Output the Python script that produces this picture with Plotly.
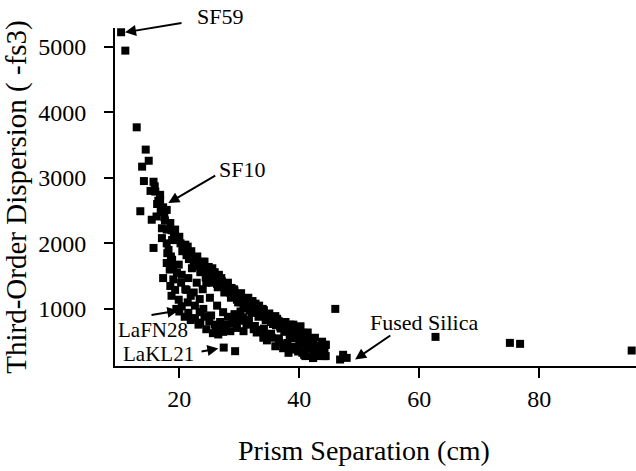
import plotly.graph_objects as go

# Prism separation (cm) and third-order dispersion (-fs^3)
x_cm = [
    10.3, 11.0, 12.9, 14.4, 14.9, 13.8, 14.1, 15.7, 15.9, 16.0, 16.8, 16.8, 17.9, 13.5, 15.4, 16.2,
    18.5, 17.1, 17.9, 19.3, 17.1, 15.7, 17.9, 19.9, 20.6, 21.8, 22.9, 24.1, 25.1, 26.2, 27.4, 28.5,
    29.6, 30.7,
    15.2, 16.3, 17.3, 17.5, 18.7, 19.1, 19.5, 20.2, 20.9, 21.2, 21.4, 22.2, 22.4, 23.2, 23.6, 24.2,
    24.5, 24.8, 25.5, 25.8, 26.3, 26.6, 27.1, 27.8, 28.1, 28.7, 29.0, 29.2, 30.0, 30.2, 31.0, 31.4,
    31.7, 32.2, 32.5, 32.9, 33.3, 33.7, 34.1, 34.5, 34.9, 35.3, 35.7, 36.1, 36.4, 36.9, 37.2, 37.5,
    38.0, 38.4, 38.8, 39.2, 39.6, 40.0, 40.4, 40.8, 41.2, 41.5, 41.9, 42.3, 42.7, 43.1, 43.5, 44.1,
    44.4, 41.0, 42.3, 39.0, 37.3, 36.0, 34.6, 34.0, 32.4, 31.2, 30.2, 29.6, 28.5, 30.7, 31.3, 32.9,
    34.1, 35.3, 36.6, 38.0, 39.8, 40.5, 38.2,
    32.6, 33.4, 34.9, 36.0, 36.6, 37.3, 38.5, 39.3, 40.2, 40.7, 41.2, 42.3, 42.9, 44.4, 44.4, 42.3,
    18.2, 18.8, 17.9, 19.9, 17.3, 19.0, 20.4, 21.5, 22.1, 22.9, 21.2, 19.3, 19.9, 20.4, 21.5, 22.6,
    23.5, 24.5, 25.6, 26.5, 25.1, 24.5, 18.4, 18.5, 18.7, 19.5, 20.0, 20.9, 21.9, 23.2, 24.0, 25.3,
    26.8, 27.8, 29.0, 26.1, 27.3, 22.4, 23.4, 21.4, 26.3, 27.3, 28.1, 29.2, 30.2, 23.9,
    20.0, 20.5, 21.0, 21.6, 22.0, 22.6, 23.0, 23.5, 24.0, 24.4, 24.9, 25.4, 25.9, 26.4, 27.0, 27.5,
    28.0, 28.6, 29.1, 29.8, 30.3, 30.9, 31.5, 32.0, 32.7, 33.2, 33.9, 34.4, 35.0, 35.6, 36.3, 36.8,
    37.7, 38.3, 39.0, 39.5, 40.1, 40.6, 41.4, 42.0, 42.6, 43.2, 43.8, 44.2, 43.6, 42.8, 40.8, 39.8,
    38.6, 37.8, 36.6, 35.4, 34.4, 33.5, 32.6, 31.6, 30.6, 29.8, 28.8, 27.8, 26.9, 25.9, 25.0, 24.2,
    23.4, 22.6, 21.9, 21.0, 20.3, 19.6, 19.0, 18.6, 18.0, 18.8, 17.6, 16.9, 16.5,
    27.4, 29.3,
    46.8, 47.9, 47.3,
    46.0, 62.7, 75.1, 76.8, 95.4,
]
y_fs3 = [
    5220, 4940, 3770, 3430, 3260, 3170, 2950, 2940, 2870, 2790, 2740, 2665, 2510, 2490, 2360, 2410,
    2310, 2230, 2210, 2210, 2080, 1930, 2000, 2080, 1950, 1850, 1750, 1650, 1550, 1450, 1345, 1245,
    1140, 1040,
    2800, 2600, 2550, 2400, 2200, 2150, 2050, 2000, 1900, 1820, 1950, 1780, 1700, 1690, 1600, 1720,
    1580, 1500, 1620, 1480, 1380, 1520, 1420, 1300, 1400, 1320, 1200, 1280, 1210, 1100, 1150, 1080,
    980, 1120, 1000, 950, 1050, 900, 980, 850, 920, 800, 870, 750, 820, 700, 780, 650,
    720, 600, 680, 550, 620, 500, 580, 450, 520, 400, 480, 330, 430, 300, 380, 280,
    450, 280, 250, 380, 400, 430, 520, 560, 690, 760, 820, 710, 660, 660, 790, 640,
    700, 620, 550, 480, 420, 330, 330,
    1015, 940, 890, 890, 810, 760, 760, 685, 735, 635, 560, 535, 430, 455, 280, 255,
    1900, 1750, 1700, 1675, 1470, 1450, 1520, 1470, 1620, 1400, 1290, 1290, 1140, 1040, 940, 860,
    790, 690, 630, 610, 1170, 1400, 1600, 1350, 1200, 1000, 960, 880, 830, 760, 1000, 900,
    800, 720, 780, 700, 650, 1250, 1150, 1100, 1050, 950, 880, 920, 960, 1300,
    2100, 1880, 1980, 1760, 1880, 1650, 1800, 1560, 1720, 1480, 1640, 1400, 1560, 1330, 1470, 1250,
    1380, 1170, 1300, 1100, 1240, 1010, 1170, 940, 1080, 880, 1000, 830, 930, 770, 850, 730,
    800, 690, 760, 640, 700, 580, 640, 500, 560, 430, 500, 350, 320, 280, 300, 350,
    420, 460, 490, 560, 620, 680, 740, 830, 870, 880, 800, 760, 730, 760, 810, 880,
    950, 1050, 1200, 1300, 1400, 1550, 1650, 1800, 1850, 2050, 2350, 2480, 2650,
    410, 355,
    228, 253, 300,
    1000, 573, 482, 467, 365,
]

x_ticks = [20, 40, 60, 80]
y_ticks = [1000, 2000, 3000, 4000, 5000]

# Labelled glasses: name and the data point each arrow points at
labels = ["SF59", "SF10", "LaFN28", "LaKL21", "Fused Silica"]
head_x = [10.95, 18.17, 19.83, 26.5, 49.3]
head_y = [5219, 2615, 974, 395, 228]

FONT = "Liberation Serif, Times New Roman, serif"

fig = go.Figure()
fig.add_trace(go.Scatter(
    x=x_cm, y=y_fs3, mode="markers",
    marker=dict(symbol="square", size=8, color="black", line=dict(width=0)),
    cliponaxis=False, showlegend=False,
))

arrow_ax = [58, 48.4, -28.3, -18.3, 36.7]
arrow_ay = [-9.6, -28.3, 4.7, 3.3, -25]
text_px = [0.2015, 0.2438, 0.0737, 0.0835, 0.594]
text_py = [1.034, 0.582, 0.1064, 0.0354, 0.13]
text_size = [22, 22, 21, 21, 22]

for i, name in enumerate(labels):
    fig.add_annotation(
        x=head_x[i], y=head_y[i], xref="x", yref="y", text="",
        showarrow=True, ax=arrow_ax[i], ay=arrow_ay[i],
        arrowhead=2, arrowsize=1.1, arrowwidth=2, arrowcolor="black", standoff=0,
    )
    fig.add_annotation(
        x=text_px[i], y=text_py[i], xref="paper", yref="paper", text=name,
        showarrow=False, xanchor="center", yanchor="middle", borderpad=0,
        font=dict(family=FONT, size=text_size[i], color="black"),
    )

fig.add_annotation(
    x=0.478, y=-0.2496, xref="paper", yref="paper", text="Prism Separation (cm)",
    showarrow=False, xanchor="center", yanchor="middle",
    font=dict(family=FONT, size=28, color="black"),
)

fig.update_layout(
    width=636, height=471,
    margin=dict(l=115, r=0, t=28, b=104.5),
    paper_bgcolor="white", plot_bgcolor="white",
    font=dict(family=FONT, color="black"),
    xaxis=dict(
        range=[9.28, 96.12], tickvals=x_ticks, ticks="outside", ticklen=10, tickwidth=2,
        tickcolor="black", showline=True, linecolor="black", linewidth=2,
        showgrid=False, zeroline=False, tickfont=dict(family=FONT, size=24, color="black"),
    ),
    yaxis=dict(
        range=[129, 5285], tickvals=y_ticks, ticks="outside", ticklen=9, tickwidth=2,
        tickcolor="black", showline=True, linecolor="black", linewidth=2,
        showgrid=False, zeroline=False, tickfont=dict(family=FONT, size=24, color="black"),
        ticklabelstandoff=13,
        title=dict(text="Third-Order Dispersion ( -fs3)", font=dict(family=FONT, size=29, color="black"),
                   standoff=8),
    ),
)

fig.write_html("out.html")
